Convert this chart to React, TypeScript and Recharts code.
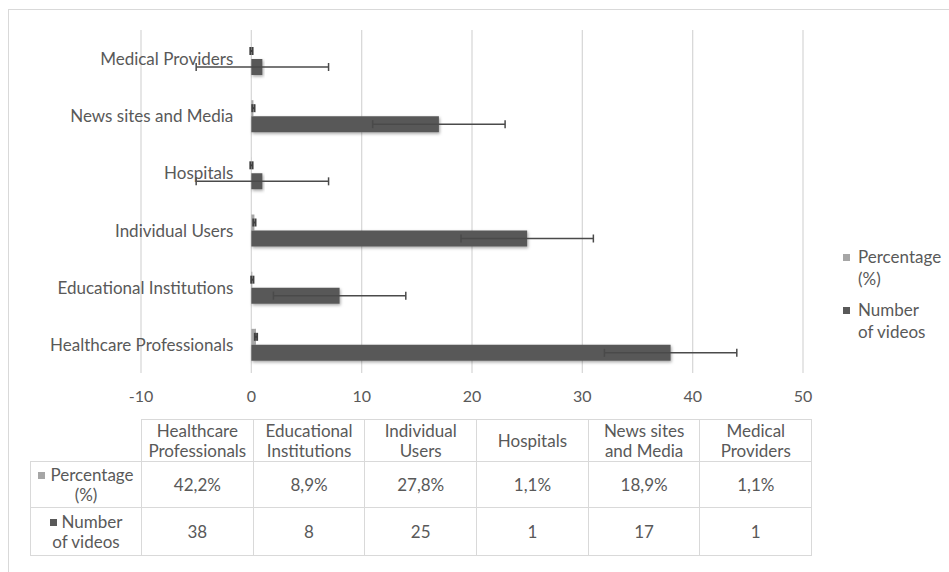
import { BarChart, Bar, XAxis, YAxis, CartesianGrid, ErrorBar, Legend, Rectangle } from "recharts";

const categories = [
  "Healthcare Professionals",
  "Educational Institutions",
  "Individual Users",
  "Hospitals",
  "News sites and Media",
  "Medical Providers",
];
const headerLines = [
  ["Healthcare", "Professionals"],
  ["Educational", "Institutions"],
  ["Individual", "Users"],
  ["Hospitals"],
  ["News sites", "and Media"],
  ["Medical", "Providers"],
];
const percentage = [0.422, 0.089, 0.278, 0.011, 0.189, 0.011];
const percentageError = [0.1, 0.1, 0.1, 0.1, 0.1, 0.1];
const videos = [38, 8, 25, 1, 17, 1];
const videosError = [6, 6, 6, 6, 6, 6];
const xTicks = [-10, 0, 10, 20, 30, 40, 50];
const seriesNames = ["Percentage (%)", "Number of videos"];

const data = categories.map((name, i) => ({
  name,
  pct: percentage[i],
  pctErr: percentageError[i],
  videos: videos[i],
  videosErr: videosError[i],
}));

const FONT = "Lato, 'Open Sans', sans-serif";
const TEXT = "#595959";
const GRID = "#d9d9d9";
const LIGHT = "#a6a6a6";
const DARK = "#595959";

const CHART_W = 949;
const CHART_H = 420;
const PLOT_LEFT = 141;
const PLOT_RIGHT = 803;
const PLOT_TOP = 30;
const PLOT_BOTTOM = 373;
const Y_AXIS_W = 100;
const X_AXIS_H = 30;

// category labels sit next to the zero line, like the original
const zeroX = PLOT_LEFT + ((0 - xTicks[0]) / (xTicks[xTicks.length - 1] - xTicks[0])) * (PLOT_RIGHT - PLOT_LEFT);
const LABEL_RIGHT = zeroX - 18;

const CategoryTick = (props: any) => (
  <text
    x={LABEL_RIGHT}
    y={props.y}
    textAnchor="end"
    dominantBaseline="central"
    fill={TEXT}
    fontSize={17}
    fontFamily={FONT}
  >
    {props.payload.value}
  </text>
);

const twoLines = (s: string) => {
  const i = s.indexOf(" ");
  return i < 0 ? [s, ""] : [s.slice(0, i), s.slice(i + 1)];
};

const LegendContent = (props: any) => {
  const items = [...(props.payload || [])].sort(
    (a: any, b: any) => seriesNames.indexOf(a.value) - seriesNames.indexOf(b.value)
  );
  return (
    <div style={{ fontFamily: FONT, fontSize: 17, color: TEXT }}>
      {items.map((p: any) => {
        const [a, b] = twoLines(p.value);
        return (
          <div key={p.value} style={{ display: "flex", alignItems: "flex-start", marginBottom: 9 }}>
            <span style={{ width: 7, height: 7, background: p.color, marginTop: 8, marginRight: 8, flex: "none" }} />
            <div style={{ lineHeight: "22px" }}>
              {a}
              <br />
              {b}
            </div>
          </div>
        );
      })}
    </div>
  );
};

const cell: React.CSSProperties = {
  border: `1px solid ${GRID}`,
  padding: 0,
  textAlign: "center",
  verticalAlign: "middle",
  lineHeight: "20px",
};

const fmtPct = (v: number) => (v * 100).toFixed(1).replace(".", ",") + "%";

export default function App() {
  const series = [
    { name: seriesNames[0], color: LIGHT, values: percentage.map(fmtPct) },
    { name: seriesNames[1], color: DARK, values: videos.map(String) },
  ];
  return (
    <div style={{ position: "absolute", left: 0, top: 0, width: 949, height: 572, overflow: "hidden", background: "#fff" }}>
      <div
        style={{
          position: "absolute",
          left: 8,
          top: 9,
          width: 941,
          height: 563,
          borderLeft: `1px solid ${GRID}`,
          borderTop: `1px solid ${GRID}`,
          boxSizing: "border-box",
        }}
      />
      <div style={{ position: "absolute", left: 0, top: 0 }}>
        <BarChart
          width={CHART_W}
          height={CHART_H}
          data={data}
          layout="vertical"
          barGap={0}
          margin={{
            top: PLOT_TOP,
            right: CHART_W - PLOT_RIGHT,
            left: PLOT_LEFT - Y_AXIS_W,
            bottom: CHART_H - PLOT_BOTTOM - X_AXIS_H,
          }}
        >
          <defs>
            <filter id="barShadow" x="-10%" y="-40%" width="130%" height="190%">
              <feDropShadow dx="1" dy="1.5" stdDeviation="1.5" floodColor="#000" floodOpacity="0.35" />
            </filter>
          </defs>
          <CartesianGrid horizontal={false} stroke={GRID} strokeWidth={1.3} />
          <XAxis
            type="number"
            domain={[xTicks[0], xTicks[xTicks.length - 1]]}
            ticks={xTicks}
            height={X_AXIS_H}
            axisLine={false}
            tickLine={false}
            tickMargin={12}
            tick={{ fill: TEXT, fontSize: 16, fontFamily: FONT }}
          />
          <YAxis
            type="category"
            dataKey="name"
            reversed
            width={Y_AXIS_W}
            axisLine={false}
            tickLine={false}
            tick={<CategoryTick />}
          />
          <Legend
            layout="vertical"
            align="center"
            verticalAlign="middle"
            wrapperStyle={{ left: 843, top: 246, width: 110 }}
            content={<LegendContent />}
          />
          <Bar dataKey="pct" name={seriesNames[0]} fill={LIGHT} barSize={16} isAnimationActive={false}>
            <ErrorBar dataKey="pctErr" direction="x" width={4} stroke="#404040" strokeWidth={2} />
          </Bar>
          <Bar
            dataKey="videos"
            name={seriesNames[1]}
            fill={DARK}
            barSize={16}
            isAnimationActive={false}
            shape={(p: any) => <Rectangle {...p} filter="url(#barShadow)" />}
          >
            <ErrorBar dataKey="videosErr" direction="x" width={4} stroke="#4a4a4a" strokeWidth={1.5} />
          </Bar>
        </BarChart>
      </div>
      <table
        style={{
          position: "absolute",
          left: 30,
          top: 419,
          borderCollapse: "collapse",
          tableLayout: "fixed",
          fontFamily: FONT,
          fontSize: 17,
          color: TEXT,
        }}
      >
        <colgroup>
          <col style={{ width: 111 }} />
          {categories.map((c) => (
            <col key={c} style={{ width: 111.7 }} />
          ))}
        </colgroup>
        <tbody>
          <tr style={{ height: 42 }}>
            <td style={{ ...cell, borderTop: "none", borderLeft: "none" }} />
            {headerLines.map((lines, i) => (
              <td key={i} style={cell}>
                {lines.map((l, j) => (
                  <div key={j}>{l}</div>
                ))}
              </td>
            ))}
          </tr>
          {series.map((s, r) => {
            const [a, b] = twoLines(s.name);
            return (
              <tr key={s.name} style={{ height: r === 0 ? 46 : 48 }}>
                <td style={{ ...cell, lineHeight: "20px" }}>
                  <div style={{ whiteSpace: "nowrap" }}>
                    <span
                      style={{ display: "inline-block", width: 7, height: 7, background: s.color, marginRight: 5, verticalAlign: "2px" }}
                    />
                    {a}
                  </div>
                  <div>{b}</div>
                </td>
                {s.values.map((v, i) => (
                  <td key={i} style={cell}>
                    {v}
                  </td>
                ))}
              </tr>
            );
          })}
        </tbody>
      </table>
    </div>
  );
}
